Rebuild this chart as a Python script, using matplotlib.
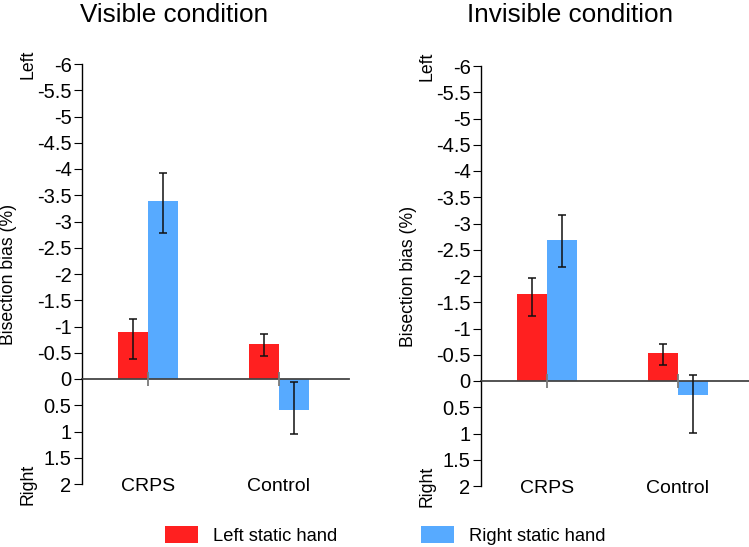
import matplotlib
matplotlib.use("Agg")
import matplotlib.pyplot as plt
import matplotlib.transforms as mtransforms
import numpy as np

plt.rcParams['font.family'] = ['Liberation Sans', 'DejaVu Sans']
plt.rcParams['axes.unicode_minus'] = False

# ---- data ----
categories = ['CRPS', 'Control']
panel_titles = ['Visible condition', 'Invisible condition']
series_names = ['Left static hand', 'Right static hand']

visible_left = [-0.90, -0.66]
visible_left_top = [-1.15, -0.86]
visible_left_bottom = [-0.39, -0.44]
visible_right = [-3.39, 0.59]
visible_right_top = [-3.92, 0.06]
visible_right_bottom = [-2.79, 1.04]

invisible_left = [-1.65, -0.53]
invisible_left_top = [-1.97, -0.71]
invisible_left_bottom = [-1.24, -0.31]
invisible_right = [-2.68, 0.26]
invisible_right_top = [-3.17, -0.12]
invisible_right_bottom = [-2.17, 0.99]

yticks = [-6, -5.5, -5, -4.5, -4, -3.5, -3, -2.5, -2, -1.5, -1, -0.5, 0, 0.5, 1, 1.5, 2]
ytick_labels = ['-6', '-5.5', '-5', '-4.5', '-4', '-3.5', '-3', '-2.5', '-2', '-1.5',
                '-1', '-0.5', '0', '0.5', '1', '1.5', '2']

RED = '#FF2020'
BLUE = '#57AAFF'

W, H = 749, 547
fig = plt.figure(figsize=(W / 100, H / 100), dpi=100)

def px_rect(x0, y_top, x1, y_bot):
    return [x0 / W, 1 - y_bot / H, (x1 - x0) / W, (y_bot - y_top) / H]

ax1 = fig.add_axes(px_rect(82, 64, 349, 484))
ax2 = fig.add_axes(px_rect(481, 66, 749, 486))

panels = [
    (ax1, visible_left, visible_left_top, visible_left_bottom,
     visible_right, visible_right_top, visible_right_bottom),
    (ax2, invisible_left, invisible_left_top, invisible_left_bottom,
     invisible_right, invisible_right_top, invisible_right_bottom),
]

bw = 0.229
handles = None
for ax, lv, lt, lb, rv, rt, rb in panels:
    x = np.arange(len(categories))
    lv_a, lt_a, lb_a = map(np.array, (lv, lt, lb))
    rv_a, rt_a, rb_a = map(np.array, (rv, rt, rb))
    b1 = ax.bar(x - bw / 2, lv_a, bw, color=RED, zorder=2, label=series_names[0])
    b2 = ax.bar(x + bw / 2, rv_a, bw, color=BLUE, zorder=2, label=series_names[1])
    ax.errorbar(x - bw / 2, lv_a, yerr=[lv_a - lt_a, lb_a - lv_a], fmt='none',
                ecolor='#111111', elinewidth=1.1, capsize=3.2, capthick=1.1, zorder=4)
    ax.errorbar(x + bw / 2, rv_a, yerr=[rv_a - rt_a, rb_a - rv_a], fmt='none',
                ecolor='#111111', elinewidth=1.1, capsize=3.2, capthick=1.1, zorder=4)
    handles = [b1, b2]

    ax.set_ylim(2, -6)
    ax.set_xlim(-0.5, -0.5 + (ax.get_position().width * W) / 131.3)
    ax.set_yticks(yticks)
    ax.set_yticklabels(ytick_labels, fontsize=14.5)
    ax.tick_params(axis='y', direction='out', length=6, width=0.8, pad=1.5, color='black')

    for s in ['top', 'right']:
        ax.spines[s].set_visible(False)
    ax.spines['left'].set_linewidth(1.0)
    ax.spines['bottom'].set_position(('data', 0))
    ax.spines['bottom'].set_color('#454545')
    ax.spines['bottom'].set_linewidth(1.3)
    ax.set_xticks(x)
    ax.tick_params(axis='x', direction='inout', length=10, width=1.3, color='#7a7a7a',
                   labelbottom=False)
    ax.set_axisbelow(False)

    for i, c in enumerate(categories):
        ax.text(i, 2.05, c, ha='center', va='center', fontsize=14, clip_on=False)

    axw = ax.get_position().width * W
    ax.text(-73 / axw, 0.5, 'Bisection bias (%)', rotation=90, ha='center', va='center',
            fontsize=12.7, transform=ax.transAxes)
    trans = mtransforms.blended_transform_factory(ax.transAxes, ax.transData)
    ax.text(-54.5 / axw, -6, 'Left', rotation=90, ha='center', va='center',
            fontsize=12.7, transform=trans, clip_on=False)
    ax.text(-54.5 / axw, 2, 'Right', rotation=90, ha='center', va='center',
            fontsize=12.7, transform=trans, clip_on=False)

fig.text(174 / W, 1 - 22 / H, panel_titles[0], ha='center', va='baseline', fontsize=18.8)
fig.text(570 / W, 1 - 22 / H, panel_titles[1], ha='center', va='baseline', fontsize=18.8)

fig.legend(handles=handles, labels=series_names, loc='upper left',
           bbox_to_anchor=(165 / W, 1 - 526 / H), ncol=2, frameon=False,
           fontsize=13.2, handlelength=1.8, handleheight=1.05, handletextpad=0.8,
           columnspacing=4.6, borderpad=0, borderaxespad=0)

fig.savefig('out.png', dpi=100)
